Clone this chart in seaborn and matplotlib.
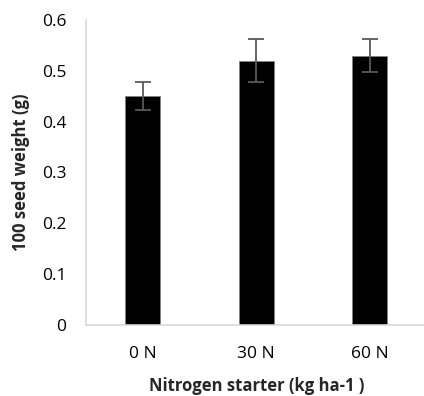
import matplotlib
matplotlib.use("Agg")
import matplotlib.pyplot as plt
import seaborn as sns
import pandas as pd

categories = ["0 N", "30 N", "60 N"]
values = [0.45, 0.52, 0.53]
errors = [0.028, 0.042, 0.033]
yticks = [0, 0.1, 0.2, 0.3, 0.4, 0.5, 0.6]
ytick_labels = ["0", "0.1", "0.2", "0.3", "0.4", "0.5", "0.6"]

sns.set_style("white")
plt.rcParams['font.family'] = ['Open Sans', 'DejaVu Sans']

df = pd.DataFrame({"cat": categories, "val": values})

fig = plt.figure(figsize=(4.24, 3.96), dpi=100)
ax = fig.add_axes([86/424, 1-325/396, 340.5/424, 305/396])

sns.barplot(data=df, x="cat", y="val", color="black", width=0.31,
            edgecolor="#7f7f7f", linewidth=0.6, ax=ax, errorbar=None)
for b in ax.patches:
    b.set_facecolor("black")
ax.errorbar(range(len(categories)), values, yerr=errors, fmt="none",
            ecolor="#595959", elinewidth=1.3, capsize=6, capthick=1.3)

ax.set_xlim(-0.5, 2.5)
ax.set_ylim(0, 0.6)
ax.set_yticks(yticks)
ax.set_yticklabels(ytick_labels)
ax.tick_params(axis="both", length=0, labelsize=12.5, colors="black")
ax.tick_params(axis="y", pad=14)
ax.tick_params(axis="x", pad=15)
for s in ["top", "right"]:
    ax.spines[s].set_visible(False)
for s in ["left", "bottom"]:
    ax.spines[s].set_color("#d9d9d9")
    ax.spines[s].set_linewidth(1.2)
ax.set_xlabel("Nitrogen starter (kg ha-1 )", fontsize=12, fontweight="bold", labelpad=11)
ax.set_ylabel("100 seed weight (g)", fontsize=12, fontweight="bold", labelpad=9)

fig.savefig("out.png", dpi=100)
